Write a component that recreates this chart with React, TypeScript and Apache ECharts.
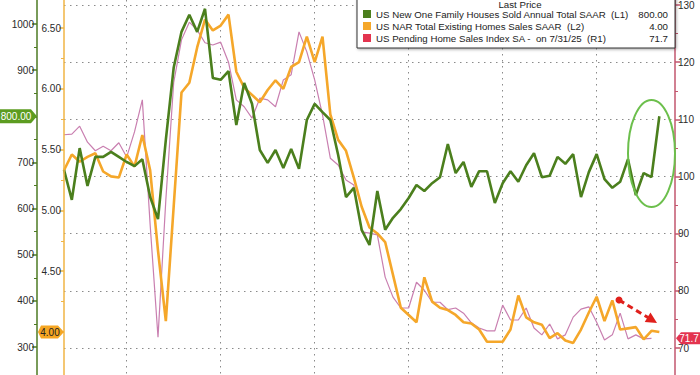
import React, { useEffect, useRef } from "react";
import * as echarts from "echarts";

// ---------- data ----------
const START_YEAR = 2019;
const START_MONTH = 4; // April 2019, monthly
const CATEGORY_COUNT = 79; // two empty months of room on the right
const categories: string[] = [];
for (let k = 0; k < CATEGORY_COUNT; k++) {
  const m = START_MONTH - 1 + k;
  categories.push(`${START_YEAR + Math.floor(m / 12)}-${String((m % 12) + 1).padStart(2, "0")}`);
}

const SERIES_NAMES = [
  "US New One Family Houses Sold Annual Total SAAR",
  "US NAR Total Existing Homes Sales SAAR",
  "US Pending Home Sales Index SA -  on 7/31/25",
];
const AXIS_TAGS = ["(L1)", "(L2)", "(R1)"];
const LAST_PRICES = ["800.00", "4.00", "71.7"];

// thousands, SAAR (L1)
const newHomeSales = [
  684, 619, 731, 649, 712, 712, 723, 712, 701, 692,
  707, 625, 577, 749, 905, 983, 1020, 983, 1033, 883,
  879, 898, 781, 872, 827, 727, 699, 727, 688, 729,
  686, 792, 827, 809, 792, 716, 625, 645, 554, 521,
  638, 554, 580, 599, 623, 651, 638, 655, 668, 740,
  677, 701, 647, 681, 681, 612, 655, 681, 658, 694,
  720, 668, 671, 712, 697, 718, 625, 679, 718, 664,
  645, 658, 707, 629, 677, 668, 800,
];

// millions, SAAR (L2)
const existingHomeSales = [
  5.33, 5.46, 5.40, 5.44, 5.47, 5.32, 5.28, 5.27, 5.46, 5.36,
  5.62, 5.33, 4.67, 4.09, 5.03, 5.97, 6.05, 6.34, 6.57, 6.48,
  6.52, 6.61, 6.14, 6.01, 5.95, 5.89, 5.99, 6.07, 6.00, 6.18,
  6.22, 6.43, 6.22, 6.43, 5.79, 5.58, 5.49, 5.27, 5.03, 4.86,
  4.81, 4.74, 4.47, 4.20, 4.14, 4.08, 4.45, 4.25, 4.20, 4.18,
  4.14, 4.08, 4.07, 4.02, 3.92, 3.92, 3.92, 4.02, 4.30, 4.12,
  4.08, 4.06, 3.95, 3.99, 3.93, 3.91, 4.02, 4.16, 4.29, 4.09,
  4.26, 4.02, 4.03, 4.04, 3.94, 4.01, 4.00,
];

// index (R1)
const pendingIndex = [
  107.3, 107.4, 108.8, 106.0, 104.5, 105.3, 104.5, 105.9, 103.4, 107.8,
  113.4, 91.5, 71.9, 95.9, 116.4, 123.9, 127.0, 125.6, 123.4, 123.0,
  123.5, 120.0, 113.4, 112.2, 110.2, 113.7, 113.4, 112.2, 116.9, 117.8,
  125.3, 121.8, 116.9, 110.8, 103.2, 102.0, 99.4, 98.5, 90.3, 90.1,
  89.8, 82.4, 78.9, 77.0, 77.0, 81.5, 80.1, 78.0, 78.0, 76.7,
  77.0, 76.1, 74.4, 73.5, 73.0, 73.0, 77.5, 74.9, 74.9, 77.0,
  73.5, 72.3, 74.2, 71.6, 72.3, 75.4, 76.8, 77.2, 74.5, 71.4,
  72.3, 76.1, 71.6, 72.3, 71.6, 71.7,
];

// ---------- styling ----------
const FONT = '"Liberation Sans", Arial, sans-serif';
const GREEN = "#4b7f1d";
const ORANGE = "#f5a72a";
const PINK = "#c97fb0";
const RED = "#e3344f";
const L1_AXIS = "#4d7a22";
const L2_AXIS = "#f0b445";
const R1_AXIS = "#c2566e";
const GRID_LEFT = 64;
const GRID_RIGHT = 25;
const W = 700;
const H = 375;
const LABEL_SIZE = 10;
const LEGEND_SIZE = 9.7;

const dotted = { color: "#8a8a8a", width: 1, type: [1.5, 4.5] as number[] };

export default function App() {
  const ref = useRef<HTMLDivElement>(null);

  useEffect(() => {
    if (!ref.current) return;
    const chart = echarts.init(ref.current, undefined, { renderer: "svg" });

    const mkX = (i: number) => ({
      type: "category",
      gridIndex: i,
      data: categories,
      boundaryGap: false,
      show: i === 3,
      axisLine: { show: false },
      axisTick: { show: false },
      axisLabel: { show: false },
      splitLine: {
        show: i === 3,
        interval: (idx: number) => idx % 12 === 8,
        lineStyle: dotted,
      },
    });

    const labelStyle = { color: "#2a2a2a", fontSize: LABEL_SIZE, fontFamily: FONT, margin: 3 };

    const option: any = {
      animation: false,
      textStyle: { fontFamily: FONT },
      grid: [
        { left: GRID_LEFT, right: GRID_RIGHT, top: 5, height: 343 },
        { left: GRID_LEFT, right: GRID_RIGHT, top: 24, height: 323 },
        { left: GRID_LEFT, right: GRID_RIGHT, top: 28, height: 304 },
        { left: GRID_LEFT, right: GRID_RIGHT, top: 0, height: H },
      ],
      xAxis: [mkX(0), mkX(1), mkX(2), mkX(3)],
      yAxis: [
        {
          type: "value",
          gridIndex: 0,
          position: "right",
          min: 70,
          max: 130,
          interval: 10,
          axisLine: { show: false },
          axisTick: { show: true, length: 5, lineStyle: { color: R1_AXIS, width: 1.5 } },
          minorTick: { show: true, splitNumber: 2, length: 3, lineStyle: { color: R1_AXIS, width: 1 } },
          axisLabel: labelStyle,
          splitLine: { show: true, lineStyle: dotted },
        },
        {
          type: "value",
          gridIndex: 1,
          position: "left",
          offset: 27,
          min: 300,
          max: 1000,
          interval: 100,
          axisLine: { show: false },
          axisTick: { show: true, length: 5, lineStyle: { color: L1_AXIS, width: 1.5 } },
          minorTick: { show: true, splitNumber: 2, length: 3, lineStyle: { color: L1_AXIS, width: 1 } },
          axisLabel: { ...labelStyle, formatter: (v: number) => (v === 800 ? "" : String(v)) },
          splitLine: { show: false },
        },
        {
          type: "value",
          gridIndex: 2,
          position: "left",
          offset: 0,
          min: 4,
          max: 6.5,
          interval: 0.5,
          axisLine: { show: false },
          axisTick: { show: true, length: 5, lineStyle: { color: L2_AXIS, width: 1.5 } },
          minorTick: { show: true, splitNumber: 2, length: 3, lineStyle: { color: L2_AXIS, width: 1 } },
          axisLabel: { ...labelStyle, formatter: (v: number) => (v === 4 ? "" : v.toFixed(2)) },
          splitLine: { show: false },
        },
        { type: "value", gridIndex: 3, show: false, min: 0, max: 1 },
      ],
      legend: {
        orient: "vertical",
        left: 357,
        top: -8,
        itemWidth: 8,
        itemHeight: 8,
        itemGap: 0,
        icon: "rect",
        selectedMode: false,
        padding: [16, 7, 4, 6],
        backgroundColor: "#ffffff",
        borderColor: "#333333",
        borderWidth: 1,
        shadowBlur: 3,
        shadowColor: "rgba(0,0,0,0.35)",
        shadowOffsetX: 1,
        shadowOffsetY: 1,
        z: 10,
        data: [
          { name: SERIES_NAMES[0], itemStyle: { color: GREEN } },
          { name: SERIES_NAMES[1], itemStyle: { color: ORANGE } },
          { name: SERIES_NAMES[2], itemStyle: { color: RED } },
        ],
        formatter: (name: string) => {
          const i = SERIES_NAMES.indexOf(name);
          return `{n|${name}  ${AXIS_TAGS[i]}}{v|${LAST_PRICES[i]}}`;
        },
        textStyle: {
          fontFamily: FONT,
          fontSize: LEGEND_SIZE,
          color: "#222",
          lineHeight: 12,
          rich: {
            n: { width: 262, fontSize: LEGEND_SIZE, lineHeight: 12, color: "#222", fontFamily: FONT },
            v: { width: 30, align: "right", fontSize: LEGEND_SIZE, lineHeight: 12, color: "#222", fontFamily: FONT },
          },
        },
      },
      series: [
        {
          name: SERIES_NAMES[2],
          type: "line",
          xAxisIndex: 0,
          yAxisIndex: 0,
          data: pendingIndex,
          symbol: "none",
          showSymbol: false,
          clip: false,
          z: 2,
          itemStyle: { color: RED },
          lineStyle: { color: PINK, width: 1.2 },
        },
        {
          name: SERIES_NAMES[1],
          type: "line",
          xAxisIndex: 2,
          yAxisIndex: 2,
          data: existingHomeSales,
          symbol: "none",
          showSymbol: false,
          clip: false,
          z: 3,
          itemStyle: { color: ORANGE },
          lineStyle: { color: ORANGE, width: 2.6 },
        },
        {
          name: SERIES_NAMES[0],
          type: "line",
          xAxisIndex: 1,
          yAxisIndex: 1,
          data: newHomeSales,
          symbol: "none",
          showSymbol: false,
          clip: false,
          z: 4,
          itemStyle: { color: GREEN },
          lineStyle: { color: GREEN, width: 2.6 },
        },
      ],
    };

    chart.setOption(option);

    // positions of axes and last-price tags through the chart's own scales
    const l1x = GRID_LEFT - 27;
    const l2x = GRID_LEFT;
    const r1x = W - GRID_RIGHT;
    const yGreen = chart.convertToPixel({ yAxisIndex: 1 }, newHomeSales[newHomeSales.length - 1]) as number;
    const yOrange = chart.convertToPixel({ yAxisIndex: 2 }, existingHomeSales[existingHomeSales.length - 1]) as number;
    const yPink = chart.convertToPixel({ yAxisIndex: 0 }, pendingIndex[pendingIndex.length - 1]) as number;

    const tagText = (x: number, y: number, text: string, color: string) => ({
      type: "text",
      z: 21,
      style: {
        x,
        y,
        text,
        fill: color,
        fontSize: LABEL_SIZE,
        fontFamily: FONT,
        align: "center",
        verticalAlign: "middle",
      },
    });

    const ax = 619, ay = 300, tx = 657, ty = 323;
    const dx = tx - ax, dy = ty - ay;
    const len = Math.hypot(dx, dy);
    const ux = dx / len, uy = dy / len;
    const bx = tx - 11 * ux, by = ty - 11 * uy;
    const px = -uy * 5.5, py = ux * 5.5;

    chart.setOption({
      graphic: [
        { type: "line", z: 5, shape: { x1: l1x, y1: 0, x2: l1x, y2: H }, style: { stroke: L1_AXIS, lineWidth: 1.5 } },
        { type: "line", z: 5, shape: { x1: l2x, y1: 0, x2: l2x, y2: H }, style: { stroke: L2_AXIS, lineWidth: 1.5 } },
        { type: "line", z: 5, shape: { x1: r1x, y1: 0, x2: r1x, y2: H }, style: { stroke: R1_AXIS, lineWidth: 1.5 } },
        {
          type: "text",
          z: 12,
          style: { x: 520, y: 4, text: "Last Price", fill: "#222", fontSize: LEGEND_SIZE, fontFamily: FONT, align: "center", verticalAlign: "middle" },
        },
        {
          type: "ellipse",
          z: 8,
          shape: { cx: 651.5, cy: 153.5, rx: 23.5, ry: 53.5 },
          style: { fill: "none", stroke: "#6cbf4c", lineWidth: 2 },
        },
        {
          type: "line",
          z: 8,
          shape: { x1: ax, y1: ay, x2: bx + ux * 2, y2: by + uy * 2 },
          style: { stroke: "#e0201c", lineWidth: 3, lineDash: [6, 4] },
        },
        { type: "circle", z: 8, shape: { cx: ax, cy: ay, r: 3.5 }, style: { fill: "#e0201c" } },
        {
          type: "polygon",
          z: 8,
          shape: { points: [[tx, ty], [bx + px, by + py], [bx - px, by - py]] },
          style: { fill: "#e0201c" },
        },
        // last price tags
        {
          type: "polygon",
          z: 20,
          shape: { points: [[0, yGreen - 7], [31, yGreen - 7], [37, yGreen], [31, yGreen + 7], [0, yGreen + 7]] },
          style: { fill: "#5c9c20" },
        },
        tagText(16, yGreen, LAST_PRICES[0], "#ffffff"),
        {
          type: "polygon",
          z: 20,
          shape: { points: [[38, yOrange], [41, yOrange - 6.5], [58, yOrange - 6.5], [64, yOrange], [58, yOrange + 6.5], [41, yOrange + 6.5]] },
          style: { fill: "#f5a623" },
        },
        tagText(50, yOrange, LAST_PRICES[1], "#222222"),
        {
          type: "polygon",
          z: 20,
          shape: { points: [[r1x + 1, yPink], [r1x + 6, yPink - 6], [W, yPink - 6], [W, yPink + 6], [r1x + 6, yPink + 6]] },
          style: { fill: RED },
        },
        tagText(689, yPink, LAST_PRICES[2], "#ffffff"),
      ],
    });

    return () => chart.dispose();
  }, []);

  return <div ref={ref} style={{ position: "absolute", left: 0, top: 0, width: W, height: H }} />;
}
